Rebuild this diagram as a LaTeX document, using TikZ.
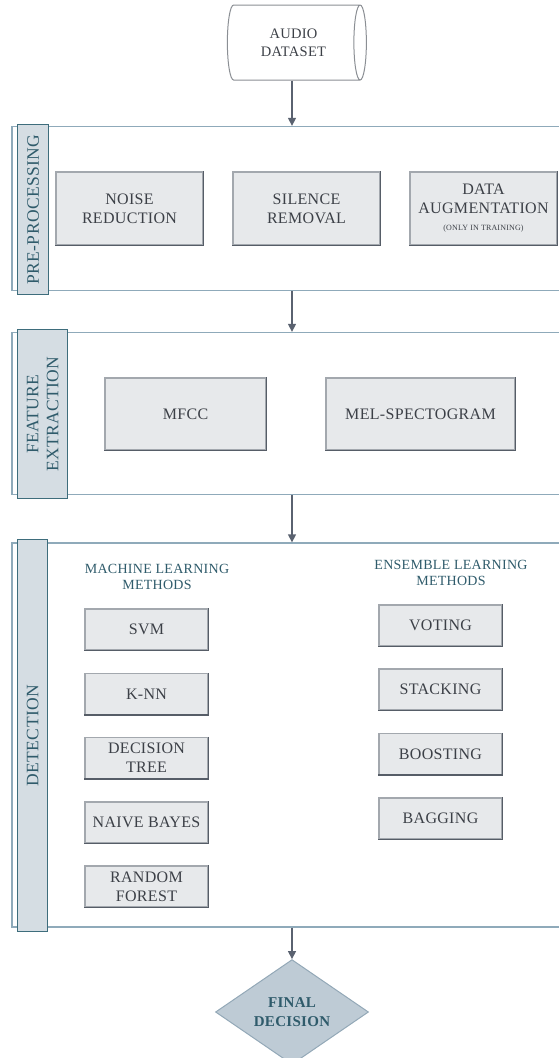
\documentclass[tikz,border=0pt]{standalone}
\usepackage{fontspec}
\setmainfont{Liberation Serif}
\newfontfamily\spaced[LetterSpace=2]{Liberation Serif}
\usetikzlibrary{shapes.geometric,arrows.meta}
\definecolor{boxfill}{HTML}{E7E9EB}
\definecolor{boxline}{HTML}{A3A8AE}
\definecolor{boxdark}{HTML}{565D67}
\definecolor{boxtext}{HTML}{3C4047}
\definecolor{panelline}{HTML}{8FAABA}
\definecolor{tabfill}{HTML}{D5DDE3}
\definecolor{tabline}{HTML}{3E6D7C}
\definecolor{headtext}{HTML}{2F5B6B}
\definecolor{arrowcol}{HTML}{5A6270}
\definecolor{decfill}{HTML}{BECBD5}
\definecolor{decline}{HTML}{93A8B7}

\begin{document}
\begin{tikzpicture}[x=1pt,y=-1pt,
    box/.style={draw=boxline,fill=boxfill,line width=1.1pt,inner sep=0pt,
        align=center,text=boxtext,font=\spaced\fontsize{16}{19}\selectfont},
    mlbox/.style={box,minimum width=123pt,minimum height=41pt},
    panel/.style={draw=panelline,line width=1.3pt,minimum width=560pt,inner sep=0pt},
    tabbox/.style={draw=tabline,fill=tabfill,line width=1.2pt,inner sep=0pt,anchor=north west},
    tablabel/.style={rotate=90,text=headtext,align=center,
        font=\spaced\fontsize{17.5}{20}\selectfont},
    heading/.style={text=headtext,align=center,font=\spaced\fontsize{14}{16.5}\selectfont},
    arr/.style={draw=arrowcol,line width=1.3pt,-{Triangle[length=8pt,width=8pt]}}]
    \useasboundingbox (0,0) rectangle (559,1058);

    % input
    \node[cylinder,draw=boxline!85!black,fill=white,line width=1pt,aspect=0.45,
        minimum width=75pt,minimum height=139pt,inner sep=0pt,
        text=boxtext,align=center,font=\spaced\fontsize{14.5}{18}\selectfont]
        (data) at (293.5,42.5) {AUDIO\\DATASET};

    % pre-processing
    \node[panel,minimum height=164pt] (pre) at (292,208.5) {};
    \node[tabbox,minimum width=31pt,minimum height=170pt] (pretab) at (17,124) {};
        \node[tablabel] at (pretab.center) {PRE-PROCESSING};
        \node[box,minimum width=147pt,minimum height=73pt] (noise) at (129.5,208.5) {NOISE\\REDUCTION};
        \node[box,minimum width=147pt,minimum height=73pt] (silence) at (306.5,208.5) {SILENCE\\REMOVAL};
        \node[box,minimum width=147pt,minimum height=73pt] (augment) at (483.5,208.5)
            {DATA\\AUGMENTATION\\[-2pt]{\fontsize{8}{10}\selectfont(ONLY IN TRAINING)}};

    % feature extraction
    \node[panel,minimum height=162pt] (feat) at (292,413.5) {};
    \node[tabbox,minimum width=50pt,minimum height=169pt] (feattab) at (17,329) {};
        \node[tablabel] at (feattab.center) {FEATURE\\EXTRACTION};
        \node[box,minimum width=161pt,minimum height=72pt] (mfcc) at (185.5,414) {MFCC};
        \node[box,minimum width=189pt,minimum height=72pt] (mel) at (420.5,414) {MEL-SPECTOGRAM};

    % detection
    \node[panel,minimum height=384pt] (det) at (292,735) {};
    \node[tabbox,minimum width=30pt,minimum height=392pt] (dettab) at (17,539) {};
        \node[tablabel] at (dettab.center) {DETECTION};

        \node[heading] (mlhead) at (157,577) {MACHINE LEARNING\\METHODS};
        \node[mlbox] (svm) at (146.5,629.5) {SVM};
        \node[mlbox] (knn) at (146.5,694) {K-NN};
        \node[mlbox] (dtree) at (146.5,758) {DECISION\\TREE};
        \node[mlbox] (bayes) at (146.5,822.5) {NAIVE BAYES};
        \node[mlbox] (forest) at (146.5,886.5) {RANDOM\\FOREST};

        \node[heading] (enshead) at (451,573) {ENSEMBLE LEARNING\\METHODS};
        \node[mlbox] (voting) at (440.5,625.5) {VOTING};
        \node[mlbox] (stacking) at (440.5,689.5) {STACKING};
        \node[mlbox] (boosting) at (440.5,754) {BOOSTING};
        \node[mlbox] (bagging) at (440.5,818.5) {BAGGING};

    % darker right and bottom edges
    \foreach \b in {noise,silence,augment,mfcc,mel,svm,knn,dtree,bayes,forest,voting,stacking,boosting,bagging}
        \draw[boxdark,line width=1.2pt] (\b.north east) -- (\b.south east) -- (\b.south west);

    % output
    \node[diamond,draw=decline,fill=decfill,line width=1pt,inner sep=0pt,
        minimum width=153pt,minimum height=92pt,text=headtext,align=center,
        font=\spaced\bfseries\fontsize{15}{18.5}\selectfont]
        (final) at (292,1012) {FINAL\\DECISION};

    \draw[arr] (data.south -| pre.north) -- (pre.north);
    \draw[arr] (pre.south) -- (feat.north);
    \draw[arr] (feat.south) -- (det.north);
    \draw[arr] (det.south) -- (final.north);
\end{tikzpicture}
\end{document}
